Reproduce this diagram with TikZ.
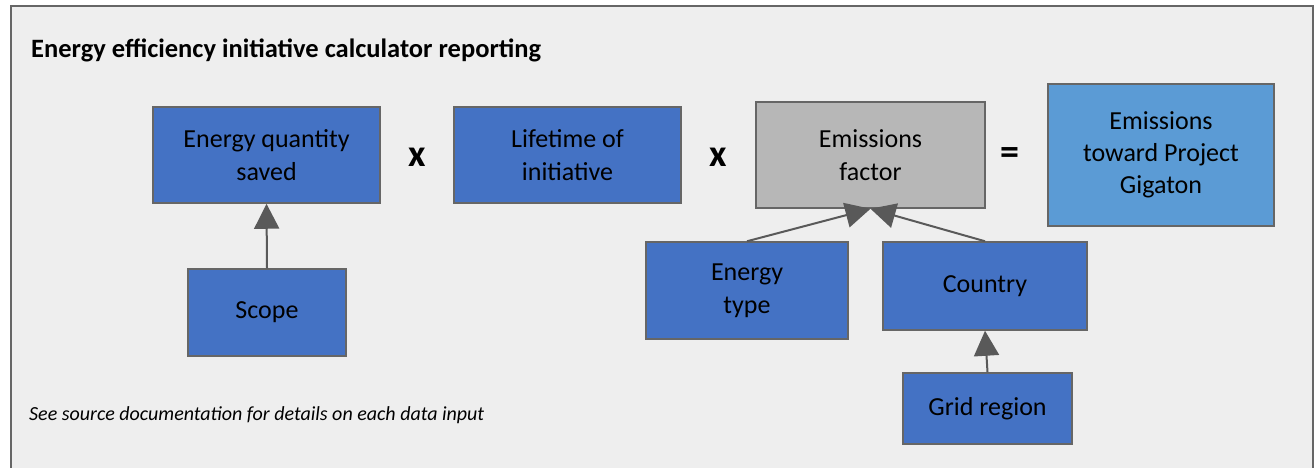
\documentclass[tikz,border=0pt]{standalone}
\usepackage{fontspec}
\setmainfont{Carlito}
\usetikzlibrary{arrows.meta}

\definecolor{panelgray}{HTML}{EEEEEE}
\definecolor{edgegray}{HTML}{666666}
\definecolor{inputblue}{HTML}{4472C4}
\definecolor{resultblue}{HTML}{5B9BD5}
\definecolor{factorgray}{HTML}{B7B7B7}
\definecolor{arrowgray}{HTML}{595959}

\begin{document}
\begin{tikzpicture}[x=1pt, y=-1pt,
  inbox/.style={draw=edgegray, line width=1.5pt, fill=inputblue, align=center,
    inner sep=0pt, font=\fontsize{26}{33}\selectfont},
  opsign/.style={inner sep=0pt, font=\bfseries\fontsize{38}{40}\selectfont},
  feed/.style={draw=arrowgray, line width=2pt,
    -{Triangle[length=25pt, width=25pt]}}]

  % Page size, as the reference
  \useasboundingbox (0,0) rectangle (1316,467);

  % Panel behind everything
  \draw[edgegray, line width=2pt, fill=panelgray] (11,6) rectangle (1313,490);

  % Heading and footnote
  \node[anchor=west, inner sep=0pt, font=\bfseries\fontsize{26.5}{30}\selectfont]
    (title) at (31,50) {Energy efficiency initiative calculator reporting};
  \node[anchor=west, inner sep=0pt, font=\itshape\fontsize{20}{24}\selectfont]
    (note) at (29,415) {See source documentation for details on each data input};

  % Top row: the product
  \node[inbox, minimum width=227, minimum height=96] (qty) at (266.5,155)
    {Energy quantity\\saved};
  \node[opsign] (times1) at (417,157) {x};
  \node[inbox, minimum width=227, minimum height=96] (life) at (567.5,155)
    {Lifetime of\\initiative};
  \node[opsign] (times2) at (718,157) {x};
  \node[inbox, fill=factorgray, minimum width=229, minimum height=106] (factor)
    at (870.5,155) {Emissions\\factor};
  \node[opsign] (equals) at (1010,156) {=};
  \node[inbox, fill=resultblue, minimum width=226, minimum height=142,
    font=\fontsize{26}{32}\selectfont] (result) at (1161,155)
    {Emissions\\toward Project\\Gigaton};

  % Inputs below
  \node[inbox, minimum width=158, minimum height=87] (scope) at (267,312.5) {Scope};
  \node[inbox, minimum width=202, minimum height=97] (etype) at (747,290.5)
    {Energy\\type};
  \node[inbox, minimum width=204, minimum height=88] (country) at (985,286) {Country};
  \node[inbox, minimum width=169, minimum height=71] (grid) at (987.5,408.5)
    {Grid region};

  % Arrows
  \draw[feed] (scope.north) -- (qty.south);
  \draw[feed] (etype.north) -- (factor.south);
  \draw[feed] (country.north) -- (factor.south);
  \draw[feed] (grid.north) -- (country.south);

\end{tikzpicture}
\end{document}
